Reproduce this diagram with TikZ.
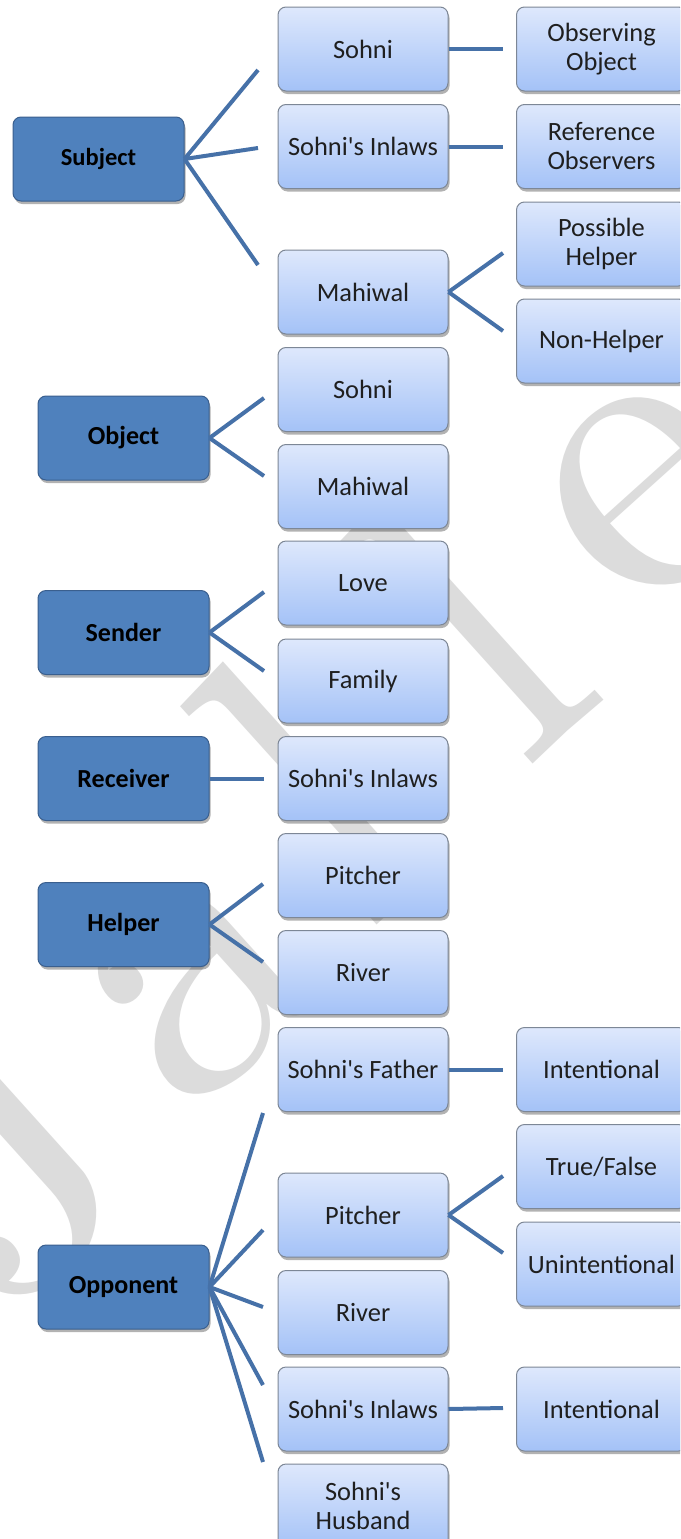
\documentclass[tikz,border=0pt]{standalone}
\usepackage{fontspec}
\newfontfamily\boxfont{Carlito}
\newfontfamily\wmfont{lmroman10-regular.otf}
\usetikzlibrary{shadows}
\definecolor{darkfill}{HTML}{4F81BD}
\definecolor{darkedge}{HTML}{3A5F8E}
\definecolor{lighttop}{HTML}{DEE8FC}
\definecolor{lightbot}{HTML}{A4C2F7}
\definecolor{lightedge}{HTML}{7D8796}
\definecolor{linkblue}{HTML}{4671A8}
\definecolor{wmgray}{HTML}{DCDCDC}
\newcommand{\myap}{\char39\relax}
\tikzset{
  boxshadow/.style={drop shadow={shadow xshift=1.5pt, shadow yshift=-3pt, opacity=0.3, fill=black}},
  role/.style={draw=darkedge, line width=1pt, fill=darkfill, rounded corners=8pt,
    minimum width=171pt, minimum height=84pt, inner sep=0pt, align=center,
    font=\boxfont\bfseries\fontsize{26}{29}\selectfont, text=black, boxshadow},
  item/.style={draw=lightedge, line width=1pt, top color=lighttop, bottom color=lightbot,
    rounded corners=8pt, minimum width=170pt, minimum height=84pt, inner sep=0pt, align=center,
    font=\boxfont\fontsize{26.4}{29}\selectfont, text=black!88, boxshadow},
  link/.style={draw=linkblue, line width=4pt},
  wm/.style={text=wmgray, font=\wmfont\fontsize{430}{430}\selectfont, inner sep=0pt, rotate=42, anchor=base}
}
\begin{document}
\begin{tikzpicture}[x=1pt,y=-1pt]
\useasboundingbox (0,0) rectangle (680,1539);
\clip (0,0) rectangle (680,1539);
\fill[white] (0,0) rectangle (680,1539);
% watermark
\node[wm] (wJ) at (80,1252) {J};
\node[wm] (wa) at (265,1050) {a};
\node[wm] (wl1) at (411,894) {l};
\node[wm] (wl2) at (567,733) {l};
\node[wm] (we) at (712,566) {e};
% connector end points
\coordinate (c1) at (258,70);
\coordinate (c2) at (258,148);
\coordinate (c3) at (258,265);
\coordinate (c4) at (264,398);
\coordinate (c5) at (264,476);
\coordinate (c6) at (264,592);
\coordinate (c7) at (264,671);
\coordinate (c8) at (264,778.5);
\coordinate (c9) at (263,884);
\coordinate (c10) at (263,962);
\coordinate (c11) at (263,1113);
\coordinate (c12) at (263,1230);
\coordinate (c13) at (263,1307);
\coordinate (c14) at (263,1385);
\coordinate (c15) at (263,1462);
\coordinate (d1) at (503,49);
\coordinate (d2) at (503,146.5);
\coordinate (d3) at (503,253);
\coordinate (d4) at (503,331);
\coordinate (d5) at (503,1069.5);
\coordinate (d6) at (503,1176);
\coordinate (d7) at (503,1253);
\coordinate (d8) at (503,1408);
% role boxes
\node[role, font=\boxfont\bfseries\fontsize{24.5}{28}\selectfont] (subject) at (98.5,159) {Subject};
\node[role] (object) at (123.5,438) {Object};
\node[role] (sender) at (123.5,632.5) {Sender};
\node[role] (receiver) at (123.5,778.5) {Receiver};
\node[role] (helper) at (123.5,924.5) {Helper};
\node[role] (opponent) at (123.5,1287) {Opponent};
% middle column
\node[item] (m1) at (363,49) {Sohni};
\node[item] (m2) at (363,146.5) {Sohni\myap s Inlaws};
\node[item] (m3) at (363,292) {Mahiwal};
\node[item] (m4) at (363,389.5) {Sohni};
\node[item] (m5) at (363,486.5) {Mahiwal};
\node[item] (m6) at (363,583) {Love};
\node[item] (m7) at (363,681) {Family};
\node[item] (m8) at (363,778.5) {Sohni\myap s Inlaws};
\node[item] (m9) at (363,875.5) {Pitcher};
\node[item] (m10) at (363,972.5) {River};
\node[item] (m11) at (363,1069.5) {Sohni\myap s Father};
\node[item] (m12) at (363,1215) {Pitcher};
\node[item] (m13) at (363,1312.5) {River};
\node[item] (m14) at (363,1409) {Sohni\myap s Inlaws};
\node[item] (m15) at (363,1506) {Sohni\myap s\\Husband};
% right column
\node[item] (r1) at (601.5,49) {Observing\\Object};
\node[item] (r2) at (601.5,146.5) {Reference\\Observers};
\node[item] (r3) at (601.5,244) {Possible\\Helper};
\node[item] (r4) at (601.5,341) {Non-Helper};
\node[item] (r5) at (601.5,1069.5) {Intentional};
\node[item] (r6) at (601.5,1166.5) {True/False};
\node[item] (r7) at (601.5,1264) {Unintentional};
\node[item] (r8) at (601.5,1409) {Intentional};
% connectors
\draw[link] (subject.east) -- (c1);
\draw[link] (subject.east) -- (c2);
\draw[link] (subject.east) -- (c3);
\draw[link] (object.east) -- (c4);
\draw[link] (object.east) -- (c5);
\draw[link] (sender.east) -- (c6);
\draw[link] (sender.east) -- (c7);
\draw[link] (receiver.east) -- (c8);
\draw[link] (helper.east) -- (c9);
\draw[link] (helper.east) -- (c10);
\draw[link] (opponent.east) -- (c11);
\draw[link] (opponent.east) -- (c12);
\draw[link] (opponent.east) -- (c13);
\draw[link] (opponent.east) -- (c14);
\draw[link] (opponent.east) -- (c15);
\draw[link] (m1.east) -- (d1);
\draw[link] (m2.east) -- (d2);
\draw[link] (m3.east) -- (d3);
\draw[link] (m3.east) -- (d4);
\draw[link] (m11.east) -- (d5);
\draw[link] (m12.east) -- (d6);
\draw[link] (m12.east) -- (d7);
\draw[link] (m14.east) -- (d8);
\end{tikzpicture}
\end{document}
